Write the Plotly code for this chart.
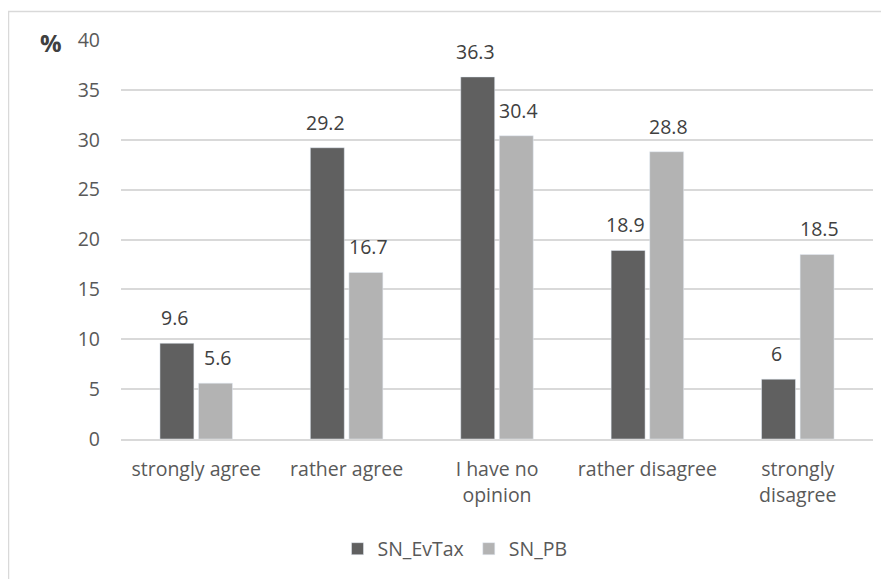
import plotly.graph_objects as go

categories = ["strongly agree", "rather agree", "I have no<br>opinion", "rather disagree", "strongly<br>disagree"]
sn_evtax = [9.6, 29.2, 36.3, 18.9, 6]
sn_pb = [5.6, 16.7, 30.4, 28.8, 18.5]
y_ticks = [0, 5, 10, 15, 20, 25, 30, 35, 40]

FONT = "Open Sans"
TXT = "#595959"
LBL = "#404040"
FS = 19.5

# page body has an 8px margin; figure is sized so that it fits in the window
W, H = 881, 571
L, R, T, B = 113, 16, 32, 139
PW = W - L - R
PH = H - T - B

fig = go.Figure()
fig.add_trace(go.Bar(name="SN_EvTax", x=categories, y=sn_evtax, marker_color="#606060"))
fig.add_trace(go.Bar(name="SN_PB", x=categories, y=sn_pb, marker_color="#b3b3b3"))

annotations = []
for series, shift in ((sn_evtax, -21.5), (sn_pb, 21.5)):
    for c, v in zip(categories, series):
        annotations.append(dict(x=c, y=v, text=f"{v:g}", showarrow=False, xshift=shift,
                                yshift=10, xanchor="center", yanchor="bottom",
                                font=dict(family=FONT, size=FS, color=LBL)))
annotations.append(dict(text="<b>%</b>", xref="paper", yref="paper",
                        x=(50.5 - 121) / PW, y=1 - (43 - 40) / PH, showarrow=False,
                        xanchor="center", yanchor="middle",
                        font=dict(family=FONT, size=24, color=LBL)))

fig.update_layout(
    width=W, height=H,
    margin=dict(l=L, r=R, t=T, b=B),
    paper_bgcolor="white", plot_bgcolor="white",
    barmode="group", bargap=0.487, bargroupgap=0.12,
    font=dict(family=FONT, size=FS, color=TXT),
    showlegend=True,
    legend=dict(orientation="h", x=(455 - 121) / PW, xanchor="center",
                y=(440 - 549) / PH, yanchor="middle", itemwidth=30,
                font=dict(family=FONT, size=FS, color=TXT)),
    shapes=[dict(type="rect", xref="paper", yref="paper",
                 x0=(8.5 - 121) / PW, x1=(900 - 121) / PW,
                 y0=(440 - 600) / PH, y1=1 + (40 - 11.5) / PH,
                 line=dict(color="#d9d9d9", width=1.5), layer="below")],
    annotations=annotations,
)
fig.update_yaxes(range=[0, 40], tickvals=y_ticks, showgrid=True, gridcolor="#d9d9d9",
                 gridwidth=1.5, zeroline=False, showline=False,
                 ticklabelstandoff=20, tickfont=dict(family=FONT, size=FS, color=TXT))
fig.update_xaxes(showline=True, linecolor="#d9d9d9", linewidth=1.5, showgrid=False,
                 ticks="", tickfont=dict(family=FONT, size=FS, color=TXT), ticklabelstandoff=12)

fig.write_html("out.html")
